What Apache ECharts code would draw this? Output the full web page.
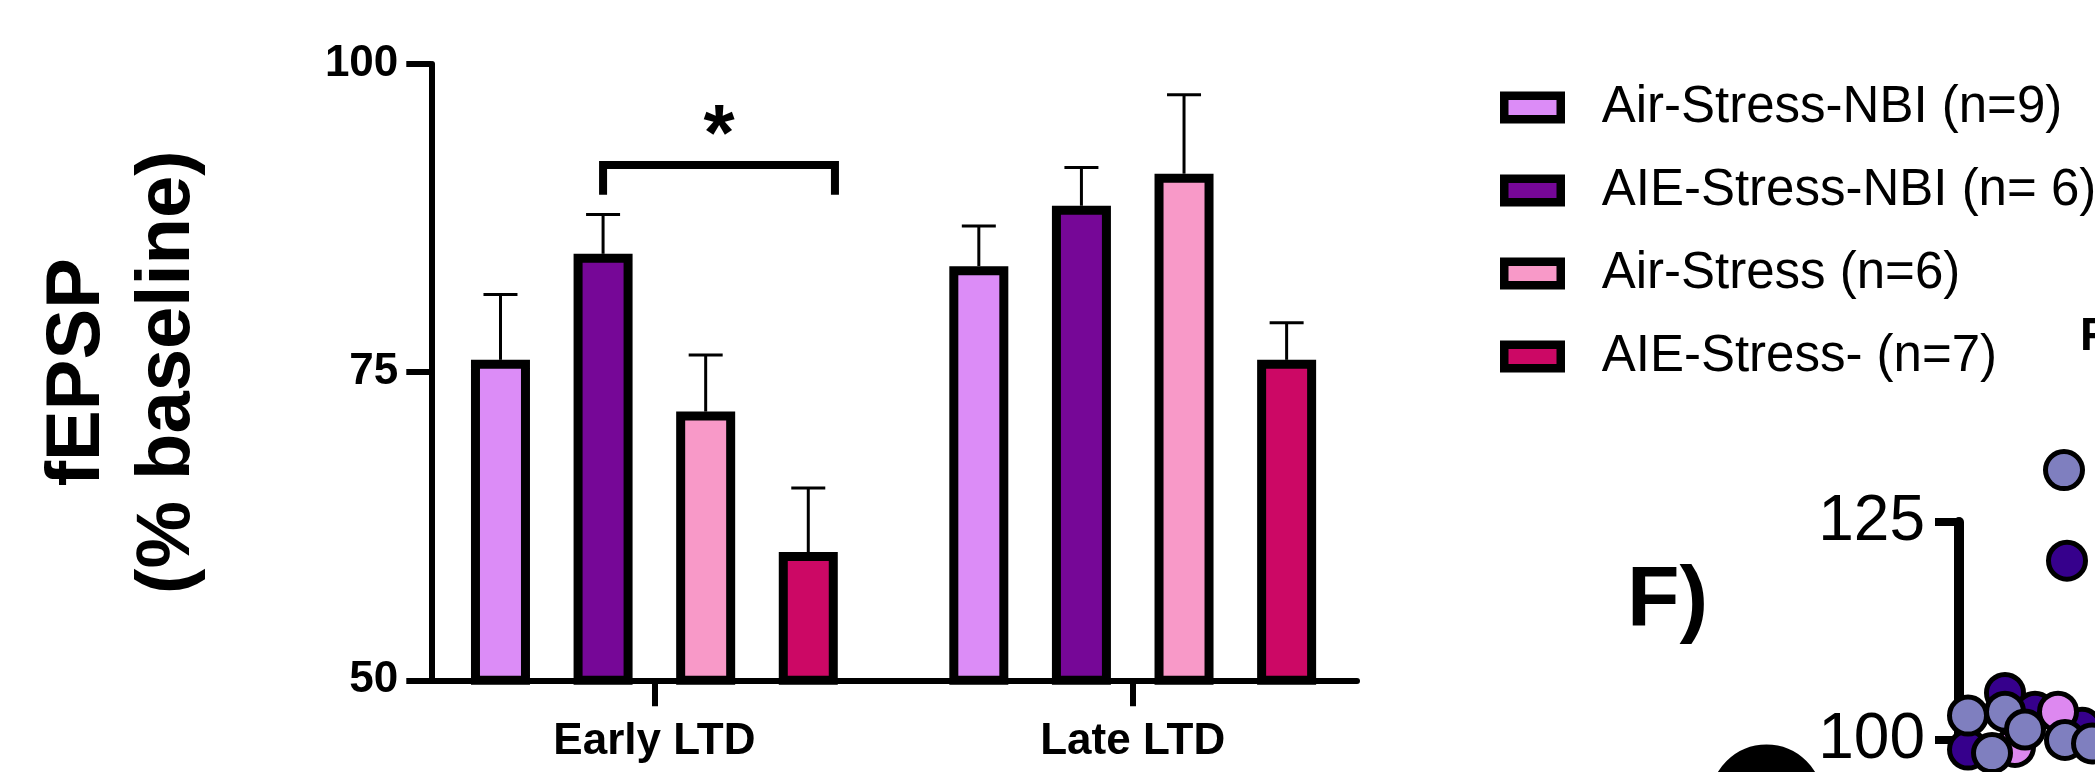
<!DOCTYPE html>
<html><head><meta charset="utf-8">
<script src="https://cdn.jsdelivr.net/npm/echarts@6/dist/echarts.min.js"></script>
<style>html,body{margin:0;padding:0;background:#fff}#c{width:2095px;height:772px}</style>
</head><body><div id="c"></div>
<script>
// ---------------- data ----------------
const categories = ['Early LTD', 'Late LTD'];
const seriesNames = ['Air-Stress-NBI (n=9)', 'AIE-Stress-NBI (n= 6)', 'Air-Stress (n=6)', 'AIE-Stress- (n=7)'];
const airStressNBI    = [76.0, 83.6];
const aieStressNBI    = [84.6, 88.5];
const airStress       = [71.8, 91.1];
const aieStress       = [60.4, 76.0];
const airStressNBIErr = [5.3, 3.25];
const aieStressNBIErr = [3.2, 3.1];
const airStressErr    = [4.6, 6.4];
const aieStressErr    = [5.2, 3.0];
const yTickValues = [50, 75, 100];
// significance bracket (category, from bar slot, to bar slot, bracket value, leg end value, star value)
const sigCategory = [0];
const sigFromSlot = [1];
const sigToSlot   = [3.26];
const sigTopValue = [91.8];
const sigLegValue = [89.4];
const sigStarValue = [94.0];
const sigText = ['*'];
// fragment of neighbouring panel F (cropped)
const fragTickValues = [100, 125];
const fragLightX = [10.5, 0.9, 4.6, 6.6, 10.6, 3.3, 13.3];
const fragLightY = [130.95, 102.8, 103.25, 101.2, 100.0, 98.5, 99.6];
const fragDarkX  = [10.8, 4.6, 7.6, 12.3, 0.9];
const fragDarkY  = [120.56, 105.4, 103.25, 101.4, 98.9];
const fragPinkX  = [9.9, 5.6];
const fragPinkY  = [103.25, 99.2];
const fragBigX   = [-19.25];
const fragBigY   = [93.0];

// ---------------- styling ----------------
const colors = ['#DC8CF7', '#760797', '#F899C8', '#CC0865'];
const FONT = '"Liberation Sans", Arial, Helvetica, sans-serif';
const BAR_W = 59, BAR_GAP = 0.739;
const SLOT = BAR_W * (1 + BAR_GAP);

const means = [airStressNBI, aieStressNBI, airStress, aieStress];
const errs = [airStressNBIErr, aieStressNBIErr, airStressErr, aieStressErr];

const errData = [];
means.forEach((m, s) => m.forEach((v, c) => errData.push([c, s, v, errs[s][c]])));

function renderErr(params, api) {
  const c = api.value(0), slot = api.value(1), m = api.value(2), e = api.value(3);
  const base = api.coord([c, m]);
  const top = api.coord([c, m + e]);
  const x = base[0] + (slot - 1.5) * SLOT;
  return {type: 'group', children: [
    {type: 'line', shape: {x1: x, y1: base[1], x2: x, y2: top[1]}, style: {stroke: '#000', lineWidth: 3}},
    {type: 'line', shape: {x1: x - 17, y1: top[1], x2: x + 17, y2: top[1]}, style: {stroke: '#000', lineWidth: 3}}
  ]};
}

const sigData = sigCategory.map((c, i) => [c, sigFromSlot[i], sigToSlot[i], sigTopValue[i], sigLegValue[i], sigStarValue[i]]);
function renderSig(params, api) {
  const c = api.value(0);
  const center = api.coord([c, api.value(3)]);
  const legY = api.coord([c, api.value(4)])[1];
  const starY = api.coord([c, api.value(5)])[1];
  const x1 = center[0] + (api.value(1) - 1.5) * SLOT;
  const x2 = center[0] + (api.value(2) - 1.5) * SLOT;
  const y = center[1];
  return {type: 'group', children: [
    {type: 'polyline', shape: {points: [[x1, legY], [x1, y], [x2, y], [x2, legY]]},
     style: {stroke: '#000', lineWidth: 8, lineJoin: 'miter', lineCap: 'butt', fill: null}},
    {type: 'text', style: {text: sigText[params.dataIndex], x: (x1 + x2) / 2, y: starY,
      align: 'center', verticalAlign: 'middle', textAlign: 'center', textVerticalAlign: 'middle',
      font: 'bold 80px ' + FONT, fill: '#000'}}
  ]};
}

const barSeries = seriesNames.map((name, s) => ({
  name: name, type: 'bar', xAxisIndex: 0, yAxisIndex: 0,
  data: means[s], barWidth: BAR_W, barGap: (BAR_GAP * 100) + '%',
  itemStyle: {color: colors[s], borderColor: '#000', borderWidth: 9},
  z: 3
}));

const zip = (xs, ys) => xs.map((x, i) => [x, ys[i]]);
const fragSeries = (data, color, size, z) => ({
  type: 'scatter', xAxisIndex: 2, yAxisIndex: 2, data: data, clip: false,
  symbol: 'circle', symbolSize: size, z: z,
  itemStyle: {color: color, borderColor: '#000', borderWidth: 5, opacity: 1}
});

const option = {
  animation: false,
  backgroundColor: '#fff',
  textStyle: {fontFamily: FONT},
  grid: [
    {left: 415.2, right: 723.1, top: 64, bottom: 91.7},
    {left: 431.3, right: 738, top: 64, bottom: 91.7},
    {left: 1959, right: 0, top: 522, bottom: 19}
  ],
  xAxis: [
    {type: 'category', gridIndex: 0, data: categories,
     axisLine: {show: false},
     axisTick: {show: true, alignWithLabel: true, length: 26, lineStyle: {color: '#000', width: 6}},
     axisLabel: {margin: 40, fontSize: 44, fontWeight: 'bold', color: '#000', fontFamily: FONT}},
    {type: 'value', gridIndex: 1, min: 0, max: 1,
     axisLine: {show: true, onZero: false, lineStyle: {color: '#000', width: 6}},
     axisTick: {show: false}, axisLabel: {show: false}, splitLine: {show: false}},
    {type: 'value', gridIndex: 2, min: 0, max: 13.6, show: false}
  ],
  yAxis: [
    {type: 'value', gridIndex: 0, min: 50, max: 100, interval: 25, show: false},
    {type: 'value', gridIndex: 1, min: yTickValues[0], max: yTickValues[yTickValues.length - 1], interval: 25,
     name: 'fEPSP\n(% baseline)', nameLocation: 'middle', nameRotate: 90, nameGap: 218,
     nameTextStyle: {fontSize: 76, fontWeight: 'bold', color: '#000', lineHeight: 90, fontFamily: FONT},
     axisLine: {show: true, lineStyle: {color: '#000', width: 6}},
     axisTick: {show: true, length: 25, lineStyle: {color: '#000', width: 6}},
     axisLabel: {margin: 33, fontSize: 44, fontWeight: 'bold', color: '#000', fontFamily: FONT},
     splitLine: {show: false}},
    {type: 'value', gridIndex: 2, min: fragTickValues[0], max: fragTickValues[fragTickValues.length - 1], interval: 25,
     axisLine: {show: true, onZero: false, lineStyle: {color: '#000', width: 10}},
     axisTick: {show: true, length: 24, lineStyle: {color: '#000', width: 8}},
     axisLabel: {margin: 34, fontSize: 64, color: '#000', fontFamily: FONT},
     splitLine: {show: false}}
  ],
  legend: {
    data: seriesNames, orient: 'vertical', left: 1500, top: 82, padding: 0,
    itemWidth: 56.5, itemHeight: 23.5, itemGap: 32, icon: 'rect',
    itemStyle: {borderColor: '#000', borderWidth: 8.5},
    textStyle: {fontSize: 51, color: '#000', fontFamily: FONT, padding: [0, 0, 0, 36]}
  },
  graphic: [
    {type: 'text', style: {text: 'F)', x: 1627, y: 602, font: 'bold 86px ' + FONT, fill: '#000',
      align: 'left', verticalAlign: 'middle', textAlign: 'left', textVerticalAlign: 'middle'}},
    {type: 'text', style: {text: 'F', x: 2080, y: 337, font: 'bold 46px ' + FONT, fill: '#000',
      align: 'left', verticalAlign: 'middle', textAlign: 'left', textVerticalAlign: 'middle'}}
  ],
  series: [
    ...barSeries,
    {type: 'custom', xAxisIndex: 0, yAxisIndex: 0, data: errData, renderItem: renderErr, z: 2,
     encode: {x: 0, y: 2}, clip: false},
    {type: 'custom', xAxisIndex: 0, yAxisIndex: 0, data: sigData, renderItem: renderSig, z: 4,
     encode: {x: 0, y: 3}, clip: false},
    fragSeries(zip(fragBigX, fragBigY), '#000', 108, 5),
    fragSeries(zip(fragDarkX, fragDarkY), '#36008C', 37, 6),
    fragSeries(zip(fragPinkX, fragPinkY), '#DD88F0', 37, 7),
    fragSeries(zip(fragLightX, fragLightY), '#7F7FBF', 37, 8)
  ]
};

const chart = echarts.init(document.getElementById('c'), null, {renderer: 'canvas'});
chart.setOption(option);
</script>
</body></html>
